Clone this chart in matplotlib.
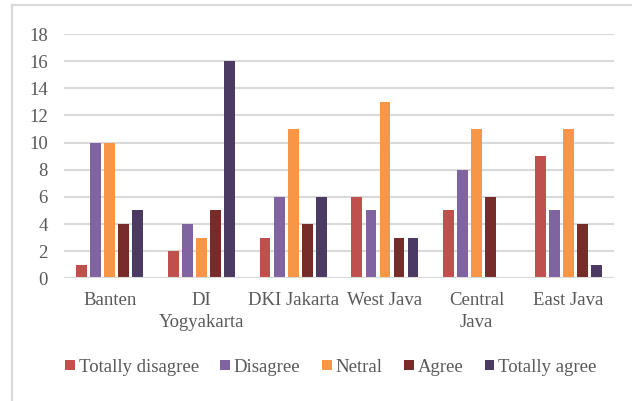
import numpy as np
import matplotlib.pyplot as plt
from matplotlib.lines import Line2D

# %%
# survey answers per province
provinces = ['Banten', 'DI\nYogyakarta', 'DKI Jakarta', 'West Java', 'Central\nJava', 'East Java']
totally_disagree = [1, 2, 3, 6, 5, 9]
disagree = [10, 4, 6, 5, 8, 5]
netral = [10, 3, 11, 13, 11, 11]
agree = [4, 5, 4, 3, 6, 4]
totally_agree = [5, 16, 6, 3, 0, 1]

series = [('Totally disagree', totally_disagree, '#C0504D'),
          ('Disagree', disagree, '#8064A2'),
          ('Netral', netral, '#F79646'),
          ('Agree', agree, '#772C2A'),
          ('Totally agree', totally_agree, '#4B3A62')]

plt.rcParams['font.family'] = ['Liberation Serif', 'DejaVu Serif']
txt = '#595959'
fs = 13.5

# %%
fig = plt.figure(figsize=(6.32, 4.01), dpi=100)
ax = fig.add_axes([0.101, 0.306, 0.871, 0.609])

x = np.arange(len(provinces))
slot = 0.153
w = 0.117
for i, (name, vals, col) in enumerate(series):
    ax.bar(x + (i - 2) * slot, vals, w, color=col, label=name, zorder=3)

ax.set_xlim(-0.5, len(provinces) - 0.5)
ax.set_ylim(0, 18)
ax.set_yticks(range(0, 19, 2))
ax.set_xticks(x)
ax.set_xticklabels(provinces, linespacing=1.35)
ax.yaxis.grid(True, color='#D9D9D9', linewidth=1.5, zorder=0)
for s in ax.spines.values():
    s.set_visible(False)
ax.tick_params(length=0, labelsize=fs, colors=txt)
ax.tick_params(axis='x', pad=10)
ax.tick_params(axis='y', pad=11.5)
ax.axhline(0, color='#D9D9D9', linewidth=1.5, zorder=4)

fig.legend(loc='center', bbox_to_anchor=(331 / 632, 1 - 367 / 401), ncol=5, frameon=False,
           fontsize=fs, handlelength=0.5, handleheight=0.5, handletextpad=0.21,
           columnspacing=1.16, labelcolor=txt, borderaxespad=0)

# outer frame (only top and left show)
fig.add_artist(Line2D([12 / 632, 12 / 632], [0, 1 - 5 / 401], color='#D9D9D9', linewidth=1.5))
fig.add_artist(Line2D([12 / 632, 1], [1 - 5 / 401, 1 - 5 / 401], color='#D9D9D9', linewidth=1.5))

plt.savefig('out.png', dpi=100)
